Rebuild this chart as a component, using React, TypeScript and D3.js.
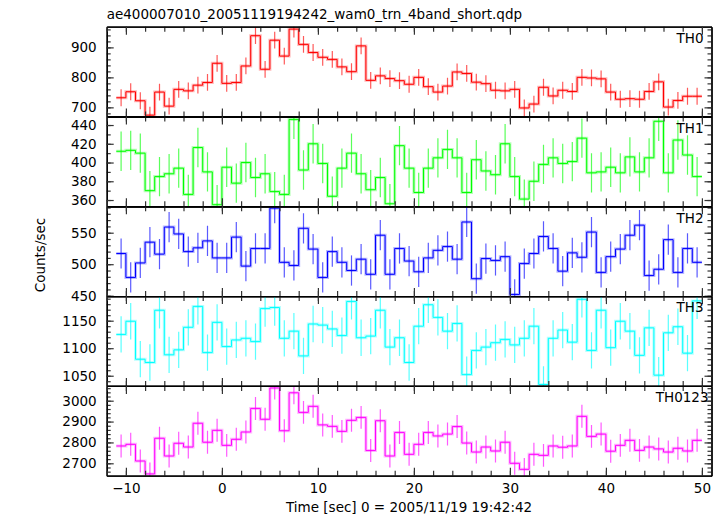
import React, { useEffect, useRef } from 'react';
import * as d3 from 'd3';

// bin centres, seconds from 2005/11/19 19:42:42 (1 s bins)
const timeBins = [
  -10.5, -9.5, -8.5, -7.5, -6.5, -5.5, -4.5, -3.5, -2.5, -1.5,
  -0.5, 0.5, 1.5, 2.5, 3.5, 4.5, 5.5, 6.5, 7.5, 8.5,
  9.5, 10.5, 11.5, 12.5, 13.5, 14.5, 15.5, 16.5, 17.5, 18.5,
  19.5, 20.5, 21.5, 22.5, 23.5, 24.5, 25.5, 26.5, 27.5, 28.5,
  29.5, 30.5, 31.5, 32.5, 33.5, 34.5, 35.5, 36.5, 37.5, 38.5,
  39.5, 40.5, 41.5, 42.5, 43.5, 44.5, 45.5, 46.5, 47.5, 48.5,
  49.5,
];

const th0 = [
  732, 752, 722, 674, 751, 704, 760, 755, 774, 783,
  847, 780, 783, 838, 939, 827, 924, 871, 961, 910,
  883, 867, 860, 835, 819, 905, 790, 805, 796, 789,
  777, 800, 769, 751, 771, 818, 813, 784, 779, 757,
  755, 760, 698, 711, 767, 738, 757, 753, 800, 798,
  795, 751, 727, 729, 727, 753, 785, 701, 723, 737,
  737,
];
const th1 = [
  412, 413, 410, 370, 385, 388, 394, 366, 416, 390,
  355, 395, 378, 400, 384, 388, 369, 366, 446, 392,
  420, 399, 364, 394, 410, 388, 371, 384, 356, 418,
  394, 368, 394, 405, 414, 405, 368, 403, 391, 387,
  420, 385, 361, 380, 398, 405, 399, 401, 426, 389,
  390, 395, 389, 406, 390, 405, 444, 389, 424, 408,
  385,
];
const th2 = [
  517, 479, 502, 535, 516, 559, 548, 520, 526, 537,
  510, 510, 543, 497, 525, 525, 589, 503, 498, 557,
  524, 479, 520, 503, 490, 508, 484, 546, 484, 525,
  505, 488, 510, 522, 528, 508, 567, 477, 509, 506,
  512, 452, 501, 517, 544, 525, 489, 518, 511, 551,
  487, 512, 524, 546, 562, 482, 492, 539, 487, 525,
  503,
];
const th3 = [
  1125, 1149, 1080, 1074, 1169, 1088, 1097, 1138, 1176, 1092,
  1147, 1103, 1115, 1118, 1112, 1172, 1174, 1118, 1131, 1086,
  1144, 1142, 1135, 1123, 1185, 1119, 1122, 1169, 1102, 1119,
  1074, 1140, 1179, 1156, 1131, 1145, 1052, 1096, 1102, 1110,
  1116, 1106, 1118, 1140, 1034, 1118, 1133, 1111, 1189, 1096,
  1169, 1101, 1149, 1131, 1087, 1137, 1051, 1128, 1139, 1091,
  1186,
];
const th0123 = [
  2783, 2791, 2711, 2649, 2820, 2735, 2796, 2778, 2892, 2801,
  2858, 2786, 2815, 2850, 2963, 2911, 3061, 2856, 3038, 2944,
  2973, 2884, 2877, 2853, 2906, 2920, 2761, 2904, 2735, 2848,
  2743, 2791, 2848, 2831, 2840, 2876, 2797, 2754, 2778, 2759,
  2801, 2700, 2671, 2743, 2738, 2783, 2777, 2783, 2925, 2829,
  2840, 2758, 2786, 2810, 2762, 2778, 2769, 2754, 2772, 2759,
  2810,
];

// 1-sigma errors per band (counts/sec)
const bandErrors = [28, 21, 24, 33, 55];
const bandNames = ['TH0', 'TH1', 'TH2', 'TH3', 'TH0123'];

const th0Ticks = [700, 800, 900];
const th1Ticks = [360, 380, 400, 420, 440];
const th2Ticks = [450, 500, 550];
const th3Ticks = [1050, 1100, 1150];
const th0123Ticks = [2700, 2800, 2900, 3000];
const timeTicks = [-10, 0, 10, 20, 30, 40, 50];

const title = 'ae400007010_20051119194242_wam0_trn_4band_short.qdp';
const xLabel = 'Time [sec] 0 = 2005/11/19 19:42:42';
const yLabel = 'Counts/sec';

const panels = [
  { values: th0, ticks: th0Ticks, minor: 20, domain: [669.5, 969], color: '#ff0000' },
  { values: th1, ticks: th1Ticks, minor: 10, domain: [353.3, 449.1], color: '#00ff00' },
  { values: th2, ticks: th2Ticks, minor: 10, domain: [449.4, 591.9], color: '#0000ff' },
  { values: th3, ticks: th3Ticks, minor: 10, domain: [1031.5, 1194.7], color: '#00ffff' },
  { values: th0123, ticks: th0123Ticks, minor: 20, domain: [2640.6, 3070.9], color: '#ff00ff' },
];

const WIDTH = 723;
const HEIGHT = 516;
const FONT = '"DejaVu Sans", "Liberation Sans", Arial, sans-serif';
const FS = 13.5;

export default function App() {
  const ref = useRef<SVGSVGElement>(null);

  useEffect(() => {
    if (!ref.current) return;
    const svg = d3.select(ref.current);
    svg.selectAll('*').remove();

    const left = 106.7;
    const right = 711.5;
    const top = 26.7;
    const panelH = 89.8;

    const x = d3.scaleLinear().domain([-12, 51]).range([left, right]);
    const minorTime = d3.range(-12, 52, 2);

    svg.append('rect').attr('width', WIDTH).attr('height', HEIGHT).attr('fill', '#fff');

    const defs = svg.append('defs');

    panels.forEach((p, i) => {
      const y0 = top + i * panelH;
      const y1 = y0 + panelH;
      const y = d3.scaleLinear().domain(p.domain).range([y1, y0]);
      const err = bandErrors[i];

      defs.append('clipPath').attr('id', `clip${i}`)
        .append('rect')
        .attr('x', left).attr('y', y0)
        .attr('width', right - left).attr('height', panelH);

      const g = svg.append('g');
      const data = g.append('g').attr('clip-path', `url(#clip${i})`);

      const stepPts: [number, number][] = [];
      timeBins.forEach((t, k) => {
        stepPts.push([t - 0.5, p.values[k]]);
        stepPts.push([t + 0.5, p.values[k]]);
      });
      const line = d3.line<[number, number]>()
        .x(d => x(d[0]))
        .y(d => y(d[1]));

      // error bars first, then a soft halo and the core step line
      data.selectAll('line.err')
        .data(timeBins)
        .join('line')
        .attr('class', 'err')
        .attr('x1', t => x(t))
        .attr('x2', t => x(t))
        .attr('y1', (_, k) => y(p.values[k] - err))
        .attr('y2', (_, k) => y(p.values[k] + err))
        .attr('stroke', p.color)
        .attr('stroke-opacity', 0.65)
        .attr('stroke-width', 1.2);

      data.append('path')
        .attr('d', line(stepPts))
        .attr('fill', 'none')
        .attr('stroke', p.color)
        .attr('stroke-opacity', 0.28)
        .attr('stroke-width', 3);
      data.append('path')
        .attr('d', line(stepPts))
        .attr('fill', 'none')
        .attr('stroke', p.color)
        .attr('stroke-width', 1);

      // axes, ticks pointing inward on all four sides
      const minorY = d3.range(Math.ceil(p.domain[0] / p.minor) * p.minor, p.domain[1], p.minor);
      const styleAxis = (sel: any) => {
        sel.select('.domain').attr('stroke', '#000').attr('stroke-width', 1.3);
        sel.selectAll('.tick line').attr('stroke', '#333').attr('stroke-width', 1.2);
        sel.attr('font-family', FONT).attr('font-size', FS);
        sel.selectAll('.tick text').attr('fill', '#000');
      };

      g.append('g').attr('transform', `translate(${left},0)`)
        .call(d3.axisLeft(y).tickValues(minorY).tickSize(-4).tickSizeOuter(0).tickFormat(() => ''))
        .call(styleAxis);
      g.append('g').attr('transform', `translate(${left},0)`)
        .call(d3.axisLeft(y).tickValues(p.ticks).tickSize(-7).tickSizeOuter(0).tickPadding(10)
          .tickFormat(d3.format('d')))
        .call(styleAxis);
      g.append('g').attr('transform', `translate(${right},0)`)
        .call(d3.axisRight(y).tickValues(minorY).tickSize(-4).tickSizeOuter(0).tickFormat(() => ''))
        .call(styleAxis);
      g.append('g').attr('transform', `translate(${right},0)`)
        .call(d3.axisRight(y).tickValues(p.ticks).tickSize(-7).tickSizeOuter(0).tickFormat(() => ''))
        .call(styleAxis);

      g.append('g').attr('transform', `translate(0,${y0})`)
        .call(d3.axisTop(x).tickValues(minorTime).tickSize(-5).tickSizeOuter(0).tickFormat(() => ''))
        .call(styleAxis);
      g.append('g').attr('transform', `translate(0,${y0})`)
        .call(d3.axisTop(x).tickValues(timeTicks).tickSize(-8).tickSizeOuter(0).tickFormat(() => ''))
        .call(styleAxis);
      g.append('g').attr('transform', `translate(0,${y1})`)
        .call(d3.axisBottom(x).tickValues(minorTime).tickSize(-5).tickSizeOuter(0).tickFormat(() => ''))
        .call(styleAxis);
      g.append('g').attr('transform', `translate(0,${y1})`)
        .call(d3.axisBottom(x).tickValues(timeTicks).tickSize(-8).tickSizeOuter(0).tickPadding(8)
          .tickFormat(i === panels.length - 1 ? d3.format('d') : () => ''))
        .call(styleAxis);

      g.append('text')
        .attr('x', i === panels.length - 1 ? 708.5 : 703.5)
        .attr('y', y0 + 16.2)
        .attr('text-anchor', 'end')
        .attr('font-family', FONT)
        .attr('font-size', FS)
        .attr('fill', '#000')
        .text(bandNames[i]);
    });

    svg.append('text')
      .attr('x', left)
      .attr('y', 19.3)
      .attr('font-family', FONT)
      .attr('font-size', FS)
      .attr('fill', '#000')
      .text(title);

    svg.append('text')
      .attr('x', (left + right) / 2)
      .attr('y', 511.5)
      .attr('text-anchor', 'middle')
      .attr('font-family', FONT)
      .attr('font-size', FS)
      .attr('fill', '#000')
      .text(xLabel);

    svg.append('text')
      .attr('transform', `translate(45,255) rotate(-90)`)
      .attr('text-anchor', 'middle')
      .attr('font-family', FONT)
      .attr('font-size', FS)
      .attr('fill', '#000')
      .text(yLabel);
  }, []);

  return (
    <div style={{ position: 'fixed', left: 0, top: 0, width: WIDTH, height: HEIGHT }}>
      <svg ref={ref} width={WIDTH} height={HEIGHT} />
    </div>
  );
}
